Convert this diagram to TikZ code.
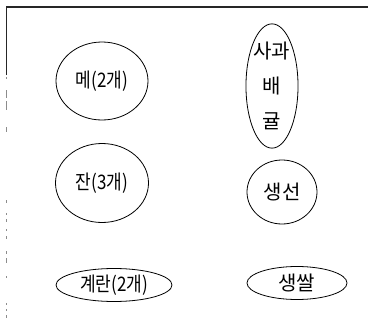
\documentclass[tikz,border=0pt]{standalone}
\usepackage{fontspec}
\newfontfamily\kr{Noto Sans CJK KR}
\usetikzlibrary{shapes.geometric}
\begin{document}
\begin{tikzpicture}[x=1pt,y=-1pt,
  oval/.style={draw, ellipse, line width=0.8pt, inner sep=0pt,
    font=\kr\fontsize{20}{35}\selectfont},
  frame/.style={line width=1.4pt, black!85},
  faint/.style={line width=1pt, black!45}]
\useasboundingbox (0,0) rectangle (368,322);
% frame
\coordinate (tl) at (6.5,7);
\coordinate (tr) at (368,7);
\coordinate (lb) at (6.5,75);
\draw[frame] (lb) -- (tl) -- (tr);
\foreach \a/\b in {77/79, 90/98, 101/110, 127/132, 200/203, 213/215, 219/222, 229/231, 236/239, 251/254, 258/263, 276/278, 303/305, 309/311, 315/318}
  \draw[faint] (6.5,\a) -- (6.5,\b);
% nodes
\node[oval, minimum width=92, minimum height=78] (me) at (102,81) {\scalebox{0.85}[1]{메(2개)}};
\node[oval, minimum width=52, minimum height=121, align=center] (fruit) at (272,86) {사과\\배\\귤};
\node[oval, minimum width=93, minimum height=79] (jan) at (102,183) {\scalebox{0.85}[1]{잔(3개)}};
\node[oval, minimum width=70, minimum height=64] (fish) at (282,192) {생선};
\node[oval, minimum width=116, minimum height=33] (egg) at (114,285) {\scalebox{0.85}[1]{계란(2개)}};
\node[oval, minimum width=100, minimum height=33] (rice) at (297,283) {생쌀};
\end{tikzpicture}
\end{document}
